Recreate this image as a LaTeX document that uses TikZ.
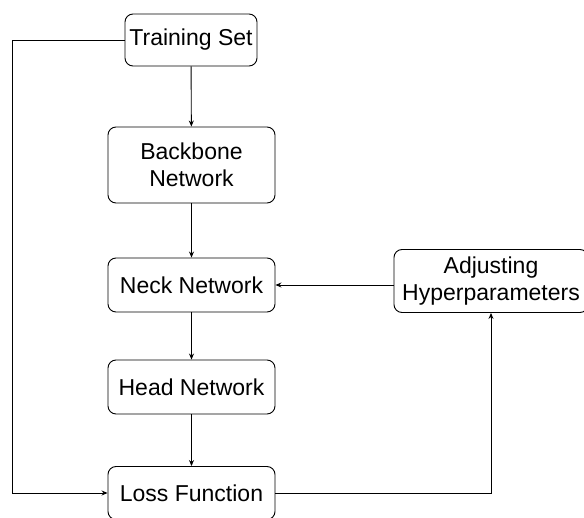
\documentclass[tikz,border=0pt]{standalone}
\usepackage{fontspec}
\setmainfont{Liberation Sans}
\usetikzlibrary{arrows.meta}
\tikzset{
    stage/.style={draw, rounded corners=8pt, line width=0.9pt, align=center,
        font=\fontsize{23}{27}\selectfont, inner sep=0pt},
    flow/.style={line width=0.9pt, -{Stealth[length=6pt,width=5pt]}}
}
\begin{document}
\begin{tikzpicture}[x=1pt,y=-1pt]
    \useasboundingbox (0,0) rectangle (584,518);
    \clip (0,0) rectangle (584,518);
        \node[stage, minimum width=132pt, minimum height=52pt] (train) at (191,40) {Training Set};
        \node[stage, minimum width=167pt, minimum height=76pt] (backbone) at (191.5,165) {Backbone\\Network};
        \node[stage, minimum width=167pt, minimum height=54pt] (neck) at (191.5,285) {Neck Network};
        \node[stage, minimum width=167pt, minimum height=54pt] (head) at (191.5,387) {Head Network};
        \node[stage, minimum width=167pt, minimum height=53pt] (loss) at (191.5,493) {Loss Function};
        \node[stage, minimum width=194pt, minimum height=63pt] (adjust) at (491,281) {Adjusting\\Hyperparameters};
        \coordinate (back) at (12,40);
        \draw[flow] (train) -- (backbone);
        \draw[flow] (backbone) -- (neck);
        \draw[flow] (neck) -- (head);
        \draw[flow] (head) -- (loss);
        \draw[flow] (adjust.west |- neck.east) -- (neck.east);
        \draw[flow] (loss.east) -| (adjust.south);
        \draw[flow] (train.west) -- (back) |- (loss.west);
    \end{tikzpicture}
\end{document}
